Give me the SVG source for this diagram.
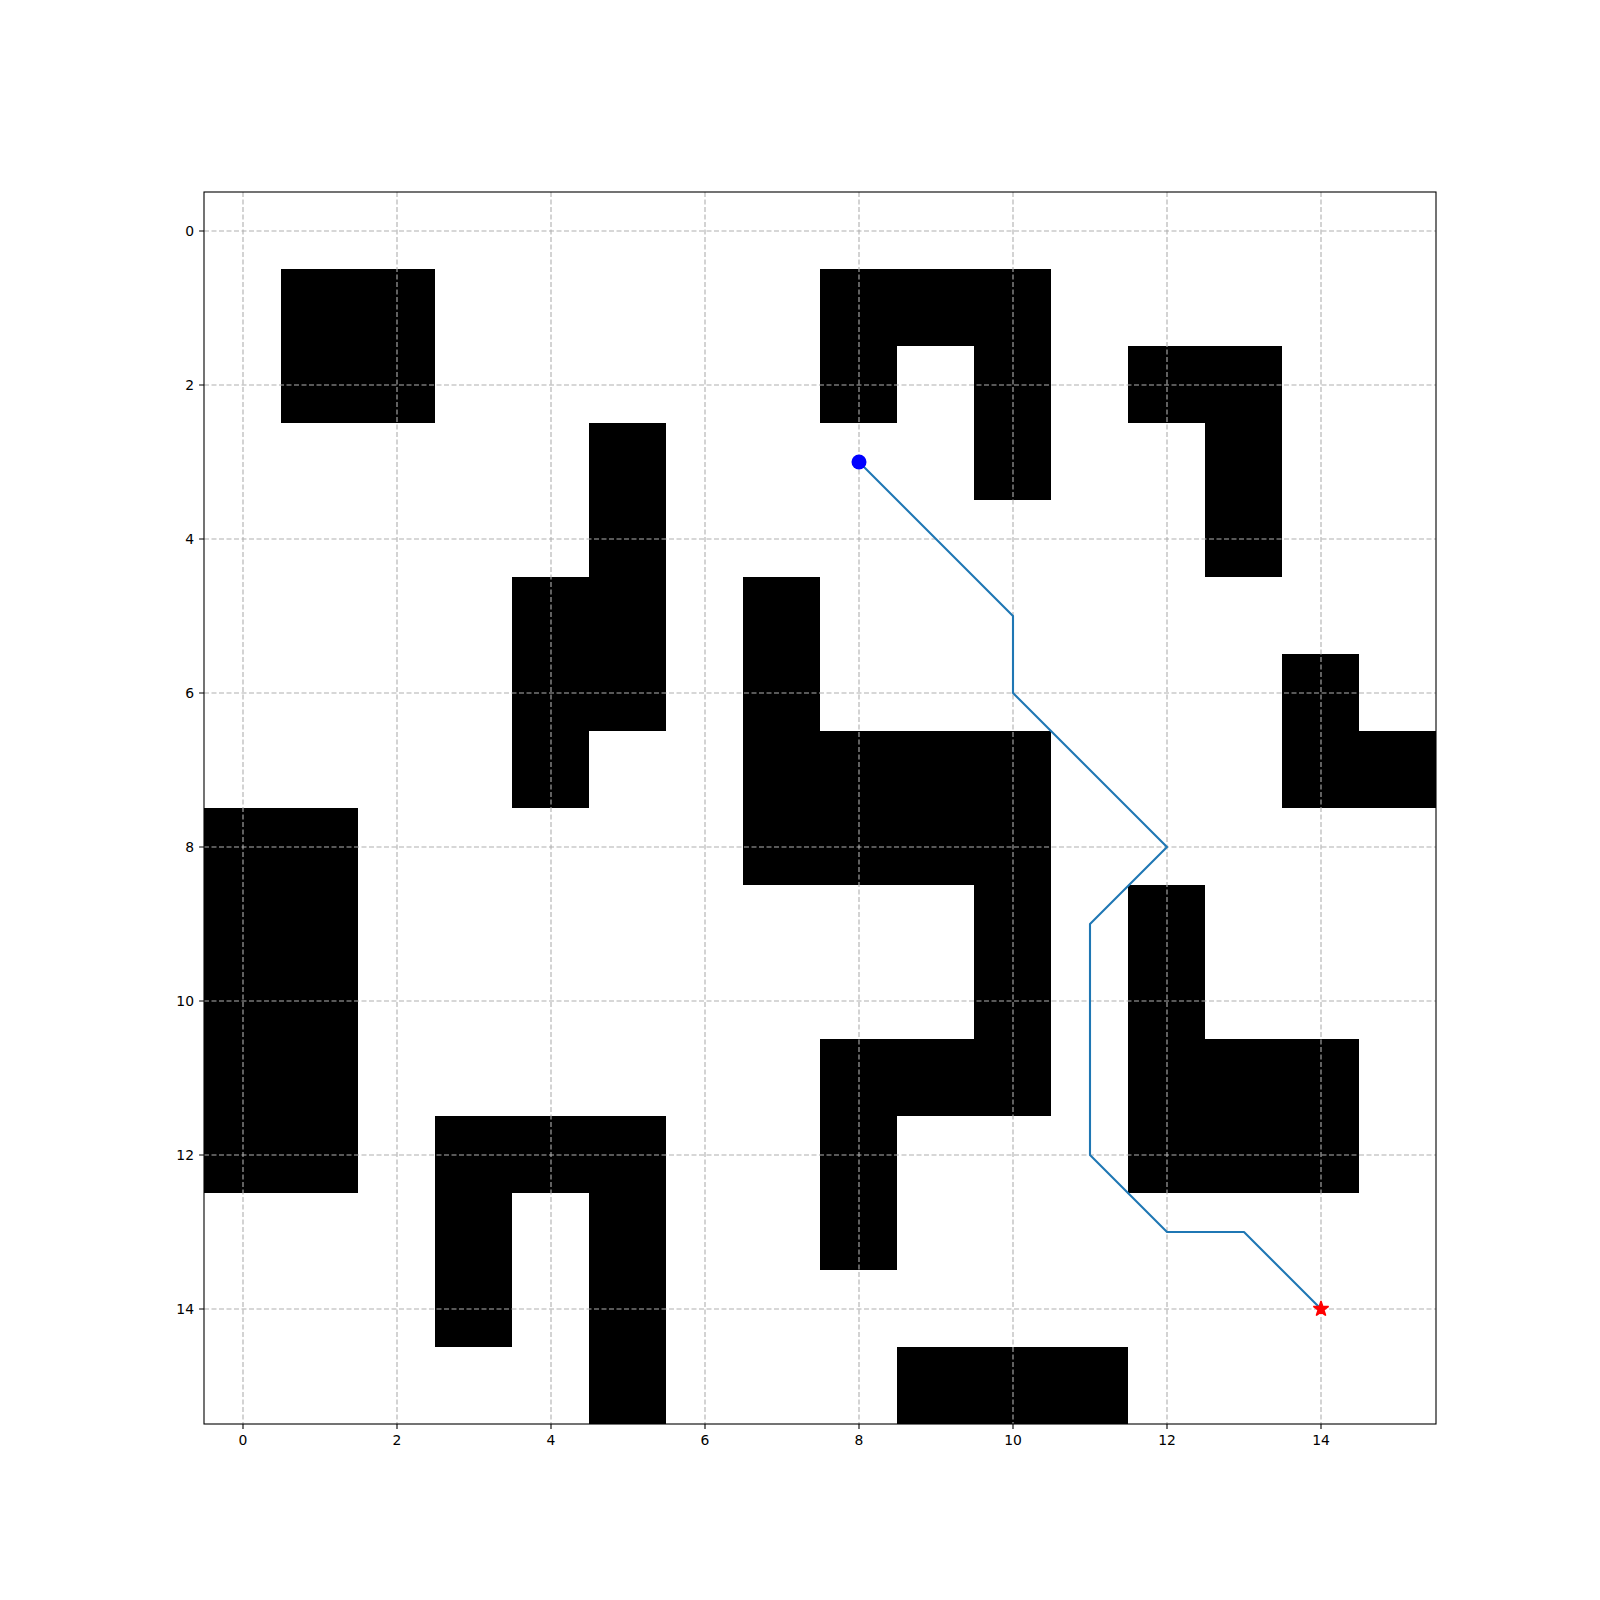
<svg xmlns="http://www.w3.org/2000/svg" width="1600" height="1600" viewBox="0 0 1600 1600">
<style>
.ob{fill:#000}
.grid{stroke:#b0b0b0;stroke-width:1.1;stroke-dasharray:5,2.5;fill:none}
.tick{stroke:#000;stroke-width:1.1}
.lbl{font-family:"DejaVu Sans",sans-serif;font-size:13.9px;fill:#000}
</style>
<rect width="1600" height="1600" fill="#fff"/>
<g id="obstacles">
<rect class="ob" x="281" y="269" width="154" height="154"/>
<rect class="ob" x="820" y="269" width="231" height="77"/>
<rect class="ob" x="820" y="346" width="77" height="77"/>
<rect class="ob" x="974" y="346" width="77" height="154"/>
<rect class="ob" x="1128" y="346" width="154" height="77"/>
<rect class="ob" x="1205" y="423" width="77" height="154"/>
<rect class="ob" x="589" y="423" width="77" height="308"/>
<rect class="ob" x="512" y="577" width="77" height="231"/>
<rect class="ob" x="743" y="577" width="77" height="308"/>
<rect class="ob" x="820" y="731" width="154" height="154"/>
<rect class="ob" x="974" y="731" width="77" height="385"/>
<rect class="ob" x="820" y="1039" width="154" height="77"/>
<rect class="ob" x="820" y="1116" width="77" height="154"/>
<rect class="ob" x="1282" y="654" width="77" height="154"/>
<rect class="ob" x="1359" y="731" width="77" height="77"/>
<rect class="ob" x="204" y="808" width="154" height="385"/>
<rect class="ob" x="435" y="1116" width="231" height="77"/>
<rect class="ob" x="435" y="1193" width="77" height="154"/>
<rect class="ob" x="589" y="1193" width="77" height="231"/>
<rect class="ob" x="1128" y="885" width="77" height="308"/>
<rect class="ob" x="1205" y="1039" width="154" height="154"/>
<rect class="ob" x="897" y="1347" width="231" height="77"/>
</g>
<g id="grid">
<path class="grid" d="M243,192V1424M397,192V1424M551,192V1424M705,192V1424M859,192V1424M1013,192V1424M1167,192V1424M1321,192V1424"/>
<path class="grid" d="M204,231H1436M204,385H1436M204,539H1436M204,693H1436M204,847H1436M204,1001H1436M204,1155H1436M204,1309H1436"/>
</g>
<g id="connectors">
<polyline points="859,462 1013,616 1013,693 1167,847 1090,924 1090,1155 1167,1232 1244,1232 1321,1309" fill="none" stroke="#1f77b4" stroke-width="2.1" stroke-linejoin="round" stroke-linecap="square"/>
</g>
<g id="start"><circle cx="859" cy="462" r="7.5" fill="#0000ff"/></g>
<g id="goal"><polygon fill="#ff0000" stroke="#ff0000" stroke-width="1.4" stroke-linejoin="bevel" transform="translate(1321,1309)" points="0,-8 1.8,-2.48 7.61,-2.47 2.91,0.95 4.7,6.47 0,3.06 -4.7,6.47 -2.91,0.95 -7.61,-2.47 -1.8,-2.48"/></g>
<g id="axes">
<rect x="204" y="192" width="1232" height="1232" fill="none" stroke="#000" stroke-width="1.1"/>
<path class="tick" d="M243,1424v4.9M397,1424v4.9M551,1424v4.9M705,1424v4.9M859,1424v4.9M1013,1424v4.9M1167,1424v4.9M1321,1424v4.9"/>
<path class="tick" d="M204,231h-4.9M204,385h-4.9M204,539h-4.9M204,693h-4.9M204,847h-4.9M204,1001h-4.9M204,1155h-4.9M204,1309h-4.9"/>
<g class="lbl" text-anchor="middle">
<text x="243" y="1445">0</text>
<text x="397" y="1445">2</text>
<text x="551" y="1445">4</text>
<text x="705" y="1445">6</text>
<text x="859" y="1445">8</text>
<text x="1013" y="1445">10</text>
<text x="1167" y="1445">12</text>
<text x="1321" y="1445">14</text>
</g>
<g class="lbl" text-anchor="end">
<text x="194" y="236">0</text>
<text x="194" y="390">2</text>
<text x="194" y="544">4</text>
<text x="194" y="698">6</text>
<text x="194" y="852">8</text>
<text x="194" y="1006">10</text>
<text x="194" y="1160">12</text>
<text x="194" y="1314">14</text>
</g>
</g>
</svg>
